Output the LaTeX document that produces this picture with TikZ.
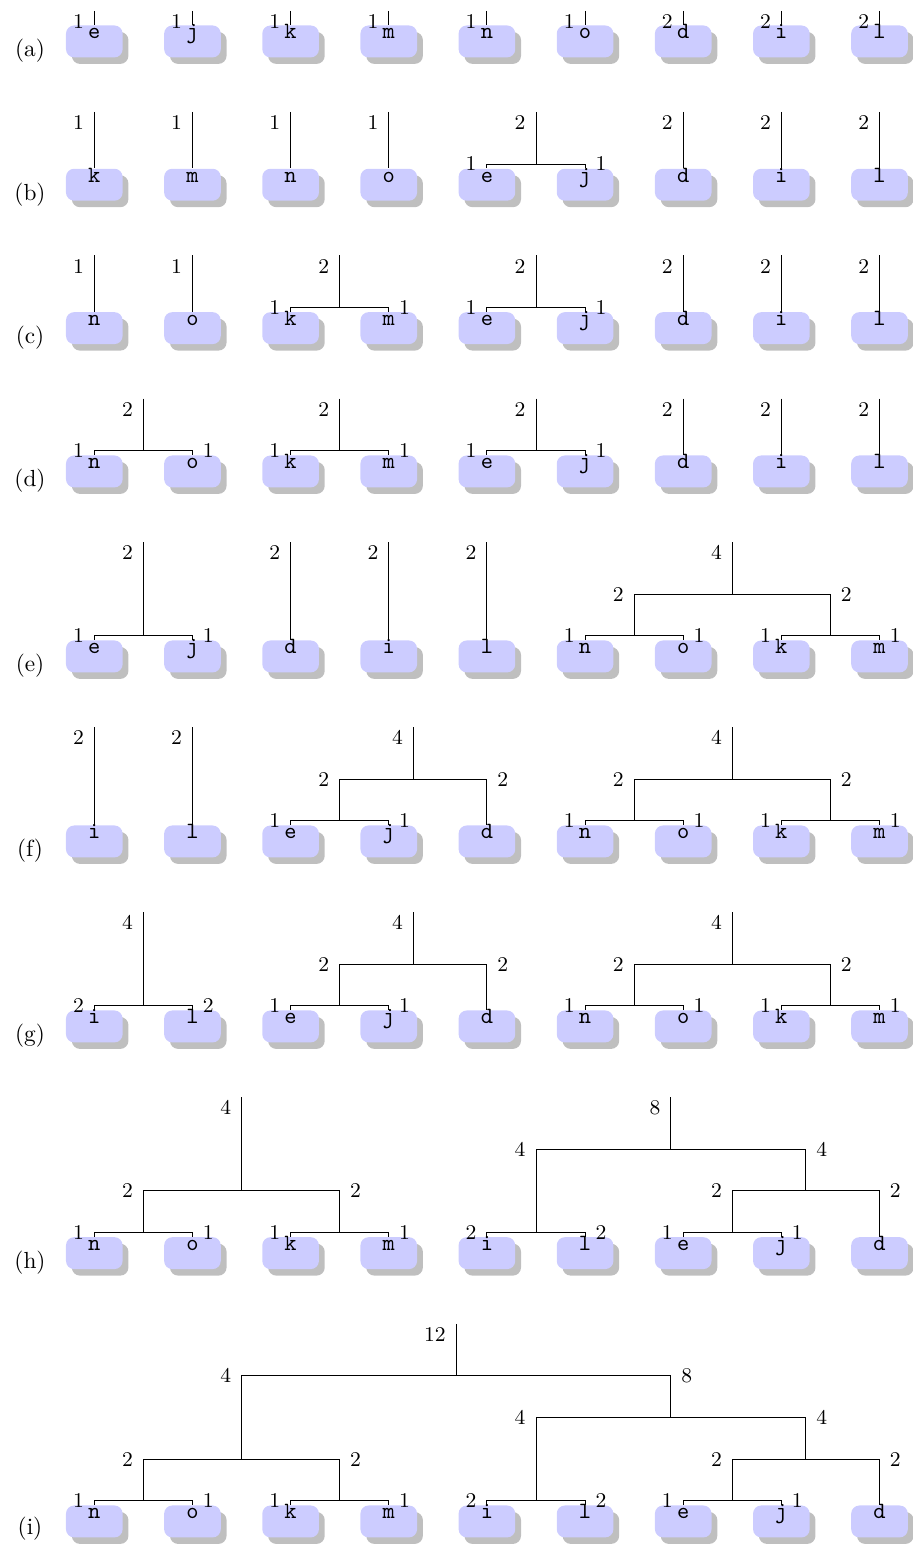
\documentclass[tikz,border=0pt]{standalone}
\usetikzlibrary{calc,shadows}
\tikzset{
  leafbox/.style={rounded corners=3.5pt, fill=blue!20, draw=none,
    drop shadow={shadow xshift=2.5pt, shadow yshift=-2.8pt},
    anchor=north, minimum width=24.3pt, inner xsep=0pt, inner ysep=0pt,
    text height=5.7pt, text depth=8pt, font=\ttfamily},
  edge/.style={draw=black, line width=0.4pt},
  wlab/.style={font=\small, inner sep=0pt},
  rowlab/.style={inner sep=0pt}
}
\newcommand\LeafN[4]{\node[leafbox] (#1) at ({94.3+98.15*(#2)},#3) {#4};}
\newcommand\InnerN[3]{\coordinate (#1) at ({94.3+98.15*(#2)},#3);}
\newcommand\LabL[4]{\node[wlab,anchor=base east] (#1) at ($(#2 |- #3)+(-10,7)$) {#4};}
\newcommand\LabR[4]{\node[wlab,anchor=base west] (#1) at ($(#2 |- #3)+(10,7)$) {#4};}
\newcommand\LabT[3]{\node[wlab,anchor=base east] (#1) at ($(#2)+(-10,17.7)$) {#3};}
\newcommand\RootT[4]{\coordinate (#1-t) at ({94.3+98.15*(#2)},#3);
  \draw[edge] (#1-t) -- (#1); \LabT{#1-w}{#1-t}{#4}}
\newcommand\SingleN[7]{\LeafN{#1-#2}{#3}{#4}{#6}
  \coordinate (#1-#2-t) at ({94.3+98.15*(#3)},#5);
  \draw[edge] (#1-#2-t) -- (#1-#2); \LabT{#1-#2-w}{#1-#2-t}{#7}}
\newcommand\PairN[7]{\LeafN{#1-#2}{#4}{#5}{#2}\LeafN{#1-#3}{#4+1}{#5}{#3}
  \InnerN{#1-#2#3}{#4+0.5}{#6}
  \draw[edge] (#1-#2#3) -| (#1-#2); \draw[edge] (#1-#2#3) -| (#1-#3);
  \LabL{#1-#2-w}{#1-#2}{#1-#2#3}{#7}\LabR{#1-#3-w}{#1-#3}{#1-#2#3}{#7}}
\newcommand\JoinNode[7]{\InnerN{#1}{#2}{#3}
  \draw[edge] (#1) -| (#4); \draw[edge] (#1) -| (#5);
  \LabL{#4-w}{#4}{#1}{#6}\LabR{#5-w}{#5}{#1}{#7}}
\begin{document}
\begin{tikzpicture}[x=0.4292pt,y=-0.4292pt]
\useasboundingbox (0,0) rectangle (912,1546);
% ---------- row (a)
\node[rowlab] (a-lab) at (30,51) {(a)};
\SingleN{a}{e}{0}{25}{11}{e}{1}
\SingleN{a}{j}{1}{25}{11}{j}{1}
\SingleN{a}{k}{2}{25}{11}{k}{1}
\SingleN{a}{m}{3}{25}{11}{m}{1}
\SingleN{a}{n}{4}{25}{11}{n}{1}
\SingleN{a}{o}{5}{25}{11}{o}{1}
\SingleN{a}{d}{6}{25}{11}{d}{2}
\SingleN{a}{i}{7}{25}{11}{i}{2}
\SingleN{a}{l}{8}{25}{11}{l}{2}
% ---------- row (b)
\node[rowlab] (b-lab) at (30,194.3) {(b)};
\SingleN{b}{k}{0}{168.3}{112}{k}{1}
\SingleN{b}{m}{1}{168.3}{112}{m}{1}
\SingleN{b}{n}{2}{168.3}{112}{n}{1}
\SingleN{b}{o}{3}{168.3}{112}{o}{1}
\PairN{b}{e}{j}{4}{168.3}{164}{1}
\RootT{b-ej}{4.5}{112}{2}
\SingleN{b}{d}{6}{168.3}{112}{d}{2}
\SingleN{b}{i}{7}{168.3}{112}{i}{2}
\SingleN{b}{l}{8}{168.3}{112}{l}{2}
% ---------- row (c)
\node[rowlab] (c-lab) at (30,337.7) {(c)};
\SingleN{c}{n}{0}{311.7}{255.4}{n}{1}
\SingleN{c}{o}{1}{311.7}{255.4}{o}{1}
\PairN{c}{k}{m}{2}{311.7}{307.4}{1}
\RootT{c-km}{2.5}{255.4}{2}
\PairN{c}{e}{j}{4}{311.7}{307.4}{1}
\RootT{c-ej}{4.5}{255.4}{2}
\SingleN{c}{d}{6}{311.7}{255.4}{d}{2}
\SingleN{c}{i}{7}{311.7}{255.4}{i}{2}
\SingleN{c}{l}{8}{311.7}{255.4}{l}{2}
% ---------- row (d)
\node[rowlab] (d-lab) at (30,481) {(d)};
\PairN{d}{n}{o}{0}{455}{450.7}{1}
\RootT{d-no}{0.5}{398.7}{2}
\PairN{d}{k}{m}{2}{455}{450.7}{1}
\RootT{d-km}{2.5}{398.7}{2}
\PairN{d}{e}{j}{4}{455}{450.7}{1}
\RootT{d-ej}{4.5}{398.7}{2}
\SingleN{d}{d}{6}{455}{398.7}{d}{2}
\SingleN{d}{i}{7}{455}{398.7}{i}{2}
\SingleN{d}{l}{8}{455}{398.7}{l}{2}
% ---------- row (e)
\node[rowlab] (e-lab) at (30,666) {(e)};
\PairN{e}{e}{j}{0}{640}{635.7}{1}
\RootT{e-ej}{0.5}{542.1}{2}
\SingleN{e}{d}{2}{640}{542.1}{d}{2}
\SingleN{e}{i}{3}{640}{542.1}{i}{2}
\SingleN{e}{l}{4}{640}{542.1}{l}{2}
\PairN{e}{n}{o}{5}{640}{635.7}{1}
\PairN{e}{k}{m}{7}{640}{635.7}{1}
\JoinNode{e-nokm}{6.5}{594.1}{e-no}{e-km}{2}{2}
\RootT{e-nokm}{6.5}{542.1}{4}
% ---------- row (f)
\node[rowlab] (f-lab) at (30,851) {(f)};
\SingleN{f}{i}{0}{825}{727.1}{i}{2}
\SingleN{f}{l}{1}{825}{727.1}{l}{2}
\PairN{f}{e}{j}{2}{825}{820.7}{1}
\LeafN{f-d}{4}{825}{d}
\JoinNode{f-ejd}{3.25}{779.1}{f-ej}{f-d}{2}{2}
\RootT{f-ejd}{3.25}{727.1}{4}
\PairN{f}{n}{o}{5}{825}{820.7}{1}
\PairN{f}{k}{m}{7}{825}{820.7}{1}
\JoinNode{f-nokm}{6.5}{779.1}{f-no}{f-km}{2}{2}
\RootT{f-nokm}{6.5}{727.1}{4}
% ---------- row (g)
\node[rowlab] (g-lab) at (30,1036) {(g)};
\PairN{g}{i}{l}{0}{1010}{1005.7}{2}
\RootT{g-il}{0.5}{912.1}{4}
\PairN{g}{e}{j}{2}{1010}{1005.7}{1}
\LeafN{g-d}{4}{1010}{d}
\JoinNode{g-ejd}{3.25}{964.1}{g-ej}{g-d}{2}{2}
\RootT{g-ejd}{3.25}{912.1}{4}
\PairN{g}{n}{o}{5}{1010}{1005.7}{1}
\PairN{g}{k}{m}{7}{1010}{1005.7}{1}
\JoinNode{g-nokm}{6.5}{964.1}{g-no}{g-km}{2}{2}
\RootT{g-nokm}{6.5}{912.1}{4}
% ---------- row (h)
\node[rowlab] (h-lab) at (30,1262.7) {(h)};
\PairN{h}{n}{o}{0}{1236.7}{1232.4}{1}
\PairN{h}{k}{m}{2}{1236.7}{1232.4}{1}
\JoinNode{h-nokm}{1.5}{1190.8}{h-no}{h-km}{2}{2}
\RootT{h-nokm}{1.5}{1097.2}{4}
\PairN{h}{i}{l}{4}{1236.7}{1232.4}{2}
\PairN{h}{e}{j}{6}{1236.7}{1232.4}{1}
\LeafN{h-d}{8}{1236.7}{d}
\JoinNode{h-ejd}{7.25}{1190.8}{h-ej}{h-d}{2}{2}
\JoinNode{h-ilejd}{5.875}{1149.2}{h-il}{h-ejd}{4}{4}
\RootT{h-ilejd}{5.875}{1097.2}{8}
% ---------- row (i)
\node[rowlab] (i-lab) at (30,1529) {(i)};
\PairN{i}{n}{o}{0}{1505}{1500.7}{1}
\PairN{i}{k}{m}{2}{1505}{1500.7}{1}
\JoinNode{i-nokm}{1.5}{1459.1}{i-no}{i-km}{2}{2}
\PairN{i}{i}{l}{4}{1505}{1500.7}{2}
\PairN{i}{e}{j}{6}{1505}{1500.7}{1}
\LeafN{i-d}{8}{1505}{d}
\JoinNode{i-ejd}{7.25}{1459.1}{i-ej}{i-d}{2}{2}
\JoinNode{i-ilejd}{5.875}{1417.5}{i-il}{i-ejd}{4}{4}
\JoinNode{i-all}{3.6875}{1375.9}{i-nokm}{i-ilejd}{4}{8}
\RootT{i-all}{3.6875}{1323.9}{12}
\end{tikzpicture}
\end{document}
